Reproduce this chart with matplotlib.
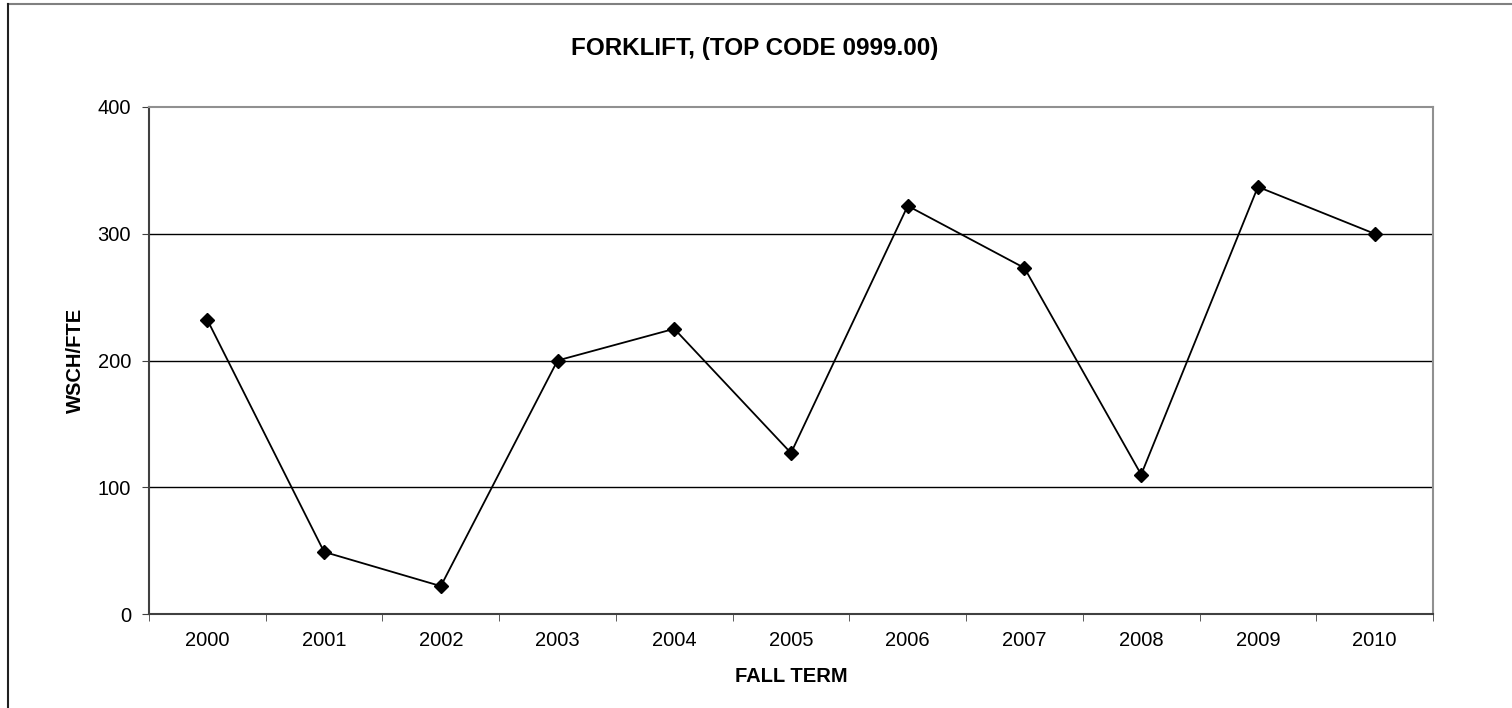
import matplotlib
matplotlib.use("Agg")
import matplotlib.pyplot as plt

years = ["2000", "2001", "2002", "2003", "2004", "2005", "2006", "2007", "2008", "2009", "2010"]
wsch_fte = [232, 49, 22, 200, 225, 127, 322, 273, 110, 337, 300]
y_ticks = [0, 100, 200, 300, 400]

plt.rcParams['font.family'] = ['Liberation Sans', 'DejaVu Sans']

W, H = 1512, 708
fig = plt.figure(figsize=(W / 100, H / 100), dpi=100)
fig.patch.set_facecolor("white")

# outer chart border (top and left visible)
fig.add_artist(plt.Line2D([7.5 / W, 1], [1 - 3.5 / H, 1 - 3.5 / H], transform=fig.transFigure, color="#808080", lw=1.5))
fig.add_artist(plt.Line2D([7.5 / W, 7.5 / W], [0, 1 - 3.5 / H], transform=fig.transFigure, color="#202020", lw=1.5))

left, right, top, bottom = 149, 1433, 107, 614
ax = fig.add_axes([left / W, 1 - bottom / H, (right - left) / W, (bottom - top) / H])

x = list(range(len(years)))
ax.plot(x, wsch_fte, color="black", lw=1.3, marker="D", markersize=7, markerfacecolor="black", markeredgecolor="black", zorder=3)

ax.set_xlim(-0.5, len(years) - 0.5)
ax.set_ylim(0, 400)
ax.set_yticks(y_ticks)
ax.set_yticklabels([str(v) for v in y_ticks], fontsize=14.5)
ax.set_xticks(x)
ax.set_xticklabels(years, fontsize=14.5)
ax.set_xticks([i - 0.5 for i in range(len(years) + 1)], minor=True)
ax.tick_params(axis="x", which="major", length=0, pad=12.5)
ax.tick_params(axis="x", which="minor", length=5, direction="out", color="#404040")
ax.tick_params(axis="y", length=5, direction="out", color="#404040", pad=8)

for v in y_ticks[1:-1]:
    ax.axhline(v, color="black", lw=1.0, zorder=1)

for s in ["left", "bottom"]:
    ax.spines[s].set_color("#404040")
    ax.spines[s].set_linewidth(1.5)
for s in ["top", "right"]:
    ax.spines[s].set_color("#909090")
    ax.spines[s].set_linewidth(1.5)

ax.set_xlabel("FALL TERM", fontsize=14.5, fontweight="bold", va="center", ha="center")
ax.xaxis.set_label_coords(0.5, -(677 - bottom) / (bottom - top))
ax.set_ylabel("WSCH/FTE", fontsize=14.5, fontweight="bold", va="center", ha="center")
ax.yaxis.set_label_coords((75 - left) / (right - left), 0.5)
fig.text((569 + 940) / 2 / W, 1 - 48 / H, "FORKLIFT, (TOP CODE 0999.00)", ha="center", va="center", fontsize=17.5, fontweight="bold")

fig.savefig("out.png", dpi=100)
